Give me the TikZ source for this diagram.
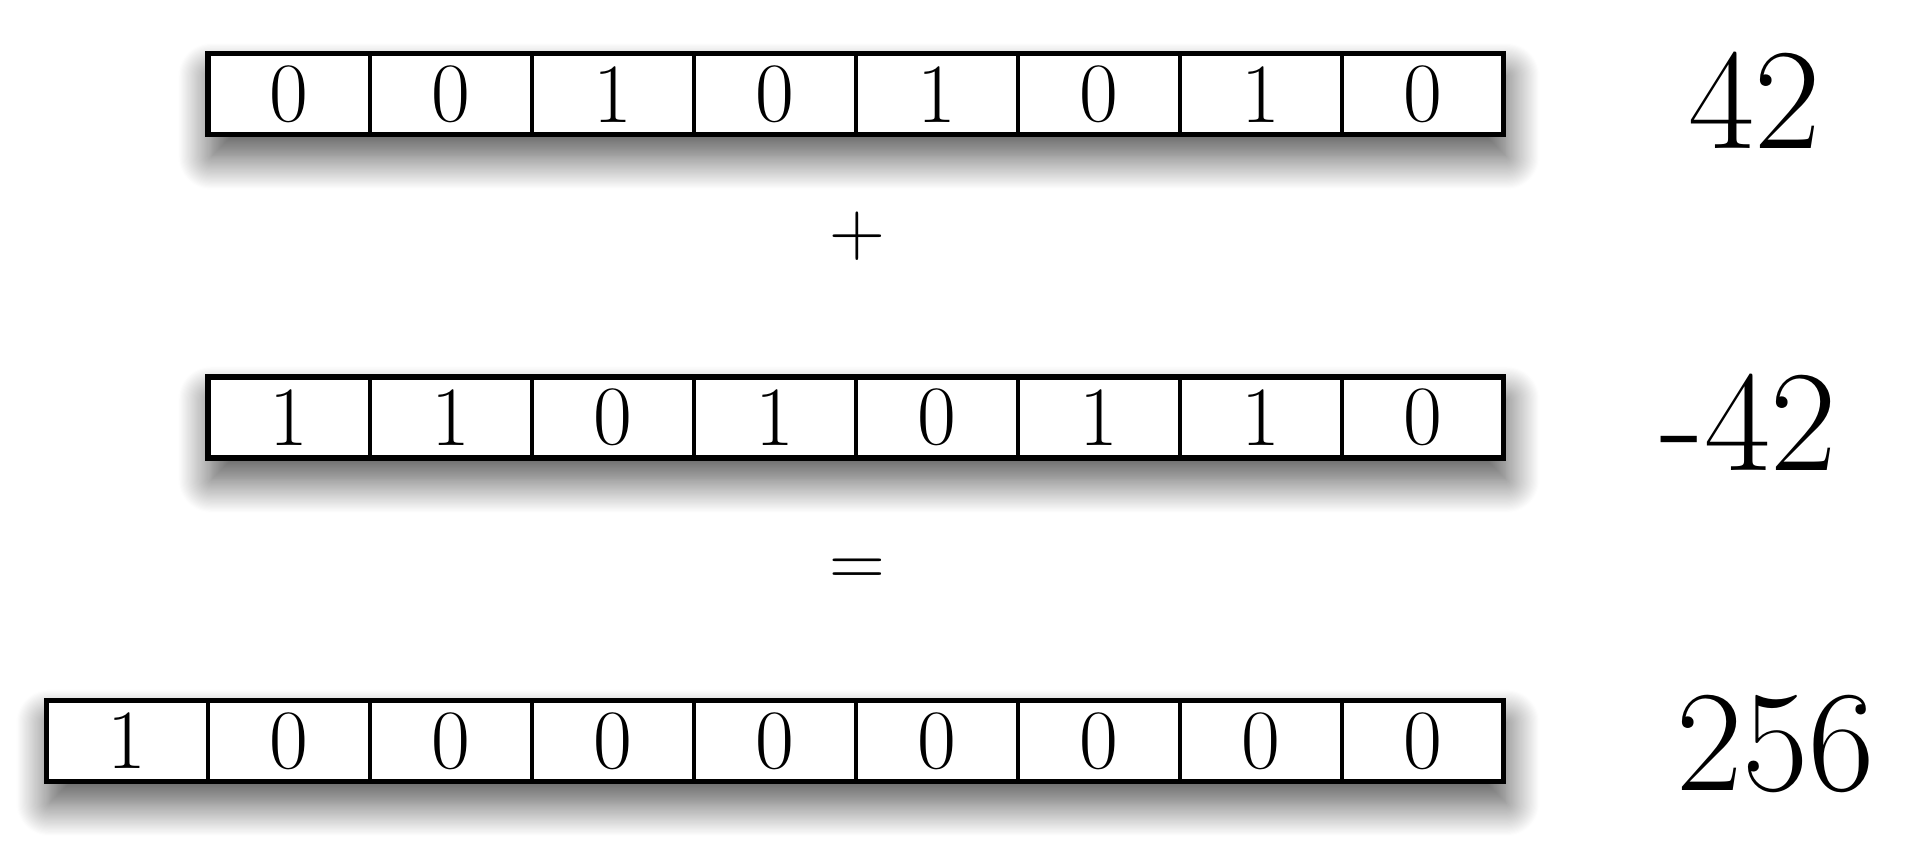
\documentclass[tikz,border=0pt]{standalone}
\usetikzlibrary{positioning, backgrounds, shadows.blur}

\begin{document}
\begin{tikzpicture}[x=0.012245cm, y=-0.012245cm,
  bit/.style={draw, line width=1.1pt, fill=white, outer sep=0pt, inner sep=0pt,
    minimum width=1.6194cm, minimum height=0.808cm,
    font=\fontsize{24}{24}\selectfont},
  rowshadow/.style={fill=white, blur shadow={shadow xshift=0.03cm, shadow yshift=-0.22cm,
    shadow blur radius=0.33cm, shadow opacity=70, shadow blur steps=30}},
  frame/.style={draw, line width=1.5pt},
  value/.style={font=\fontsize{41}{41}\selectfont},
  op/.style={font=\fontsize{22}{22}\selectfont}]
\useasboundingbox (0,0) rectangle (1568,690);

% first operand
\foreach \b [count=\i] in {0,0,1,0,1,0,1,0}
  \node[bit] (a\i) at ({170+(\i-0.5)*132.25}, 77) {\b};
% second operand
\foreach \b [count=\i] in {1,1,0,1,0,1,1,0}
  \node[bit] (b\i) at ({170+(\i-0.5)*132.25}, 341) {\b};
% result, one bit more
\foreach \b [count=\i] in {1,0,0,0,0,0,0,0,0}
  \node[bit] (c\i) at ({37.75+(\i-0.5)*132.25}, 605) {\b};

\draw[frame] (a1.north west) rectangle (a8.south east);
\draw[frame] (b1.north west) rectangle (b8.south east);
\draw[frame] (c1.north west) rectangle (c9.south east);

\begin{scope}[on background layer]
  \path[rowshadow] (a1.north west) rectangle (a8.south east);
  \path[rowshadow] (b1.north west) rectangle (b8.south east);
  \path[rowshadow] (c1.north west) rectangle (c9.south east);
\end{scope}

\node[op] (plus) at (700, 193) {+};
\node[op] (equals) at (700, 468) {=};

\node[value] (va) at (1433, 82) {42};
\node[value] (vb) at (1428, 345) {-42};
\node[value] (vc) at (1450, 608) {256};
\end{tikzpicture}
\end{document}
